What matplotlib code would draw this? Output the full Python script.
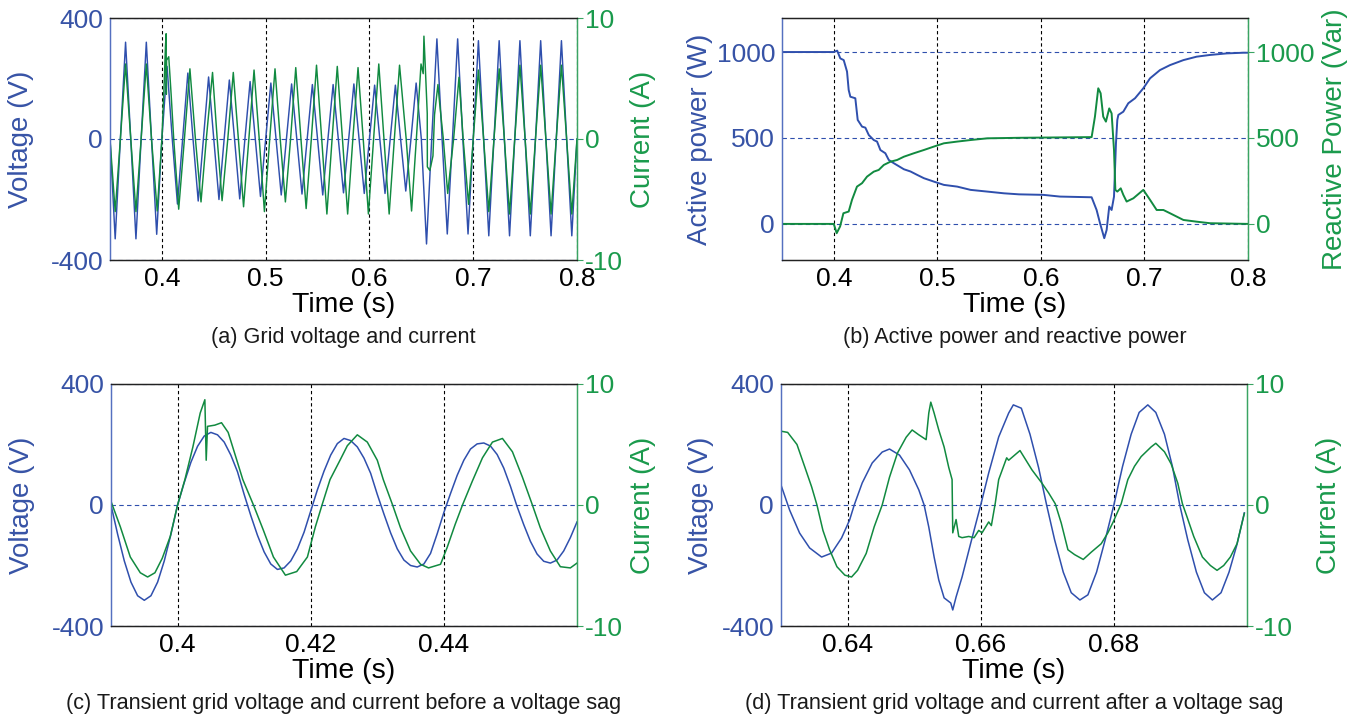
import numpy as np
import matplotlib
matplotlib.use("Agg")
import matplotlib.pyplot as plt

plt.rcParams['font.family'] = ['Liberation Sans', 'DejaVu Sans']

# ---------------- Colours ----------------
BLUE = "#2f4fad"
GREEN = "#118a40"
BLUE_TXT = "#3753a6"
GREEN_TXT = "#1a9a4c"
BLUE_SPINE = "#5570c0"
GREEN_SPINE = "#3aa463"

# ---------------- Data ----------------
# (a) grid voltage (V) and current (A), 0.35 - 0.80 s
va_t = np.round(np.arange(0.350, 0.8001, 0.005), 3)
va_v = [0, -330, 0, 320, 0, -330, 0, 320, 0, -315,
        0, 240, 0, -215, 0, 218, 0, -205, 0, 205,
        0, -200, 0, 195, 0, -198, 0, 190, 0, -190,
        0, 185, 0, -185, 0, 182, 0, -182, 0, 180,
        0, -185, 0, 180, 0, -178, 0, 182, 0, -180,
        0, 178, 0, -180, 0, 178, 0, -172, 0, 185,
        0, -347, 0, 331, 0, -314, 0, 331, 0, -314,
        0, 325, 0, -320, 0, 325, 0, -320, 0, 325,
        0, -320, 0, 325, 0, -320, 0, 325, 0, -320,
        0]
ia_t = [0.350, 0.355, 0.360, 0.365, 0.370, 0.375, 0.380, 0.385, 0.390, 0.3955,
        0.400, 0.4023, 0.4034, 0.4041, 0.4043, 0.4045, 0.4066, 0.4089, 0.4114, 0.4162,
        0.4217, 0.427, 0.4323, 0.4377, 0.4428, 0.4488, 0.4533, 0.458, 0.4635, 0.4688,
        0.4737, 0.4787, 0.4838, 0.4888, 0.4938, 0.4988, 0.5039, 0.509, 0.514, 0.519,
        0.524, 0.529, 0.534, 0.539, 0.544, 0.549, 0.554, 0.559, 0.564, 0.569,
        0.574, 0.579, 0.584, 0.589, 0.594, 0.599, 0.604, 0.609, 0.614, 0.619,
        0.624, 0.629, 0.6354, 0.6406, 0.6452, 0.6497, 0.6518, 0.6525, 0.6537, 0.6557,
        0.6558, 0.6582, 0.6612, 0.6627, 0.666, 0.6677, 0.6712, 0.6754, 0.6811, 0.6863,
        0.6903, 0.6955, 0.700, 0.705, 0.710, 0.715, 0.720, 0.725, 0.730, 0.735,
        0.740, 0.745, 0.750, 0.755, 0.760, 0.765, 0.770, 0.775, 0.780, 0.785,
        0.790, 0.795, 0.800]
ia_v = [0, -6.0, 0, 6.2, 0, -6.0, 0, 6.2, 0, -5.95,
        0, 4.8, 7.6, 8.7, 3.7, 6.5, 6.8, 3.7, 0, -5.8,
        0, 5.8, 0, -5.2, 0, 5.5, 0, -5.1, 0, 5.5,
        0, -5.6, 0, 5.7, 0, -6.0, 0, 5.8, 0, -5.2,
        0, 5.9, 0, -5.75, 0, 6.1, 0, -6.2, 0, 6.0,
        0, -6.2, 0, 5.9, 0, -6.2, 0, 6.2, 0, -6.2,
        0, 6.1, 0, -5.95, 0, 6.2, 5.4, 8.5, 6.2, 2.1,
        -2.3, -2.6, -1.4, 2.0, 4.5, 2.9, 0, -4.5, 0, 5.1,
        0, -5.4, 0, 5.7, 0, -6.0, 0, 5.8, 0, -6.2,
        0, 6.1, 0, -6.2, 0, 6.1, 0, -6.2, 0, 6.1,
        0, -6.2, 0]

# (b) active power (W) and reactive power (Var)
pb_t = [0.350, 0.400, 0.4033, 0.4063, 0.4096, 0.4128, 0.4144, 0.416, 0.4208, 0.4231,
        0.4273, 0.4305, 0.4338, 0.4386, 0.4418, 0.445, 0.4498, 0.4531, 0.458, 0.4677,
        0.4741, 0.4806, 0.487, 0.4967, 0.5063, 0.5192, 0.5321, 0.5483, 0.5644, 0.5789,
        0.6023, 0.6184, 0.649, 0.6538, 0.6571, 0.6612, 0.6635, 0.666, 0.6683, 0.6706,
        0.6725, 0.6738, 0.6748, 0.6796, 0.6844, 0.6909, 0.6989, 0.7054, 0.715, 0.7247,
        0.7376, 0.7504, 0.7633, 0.7794, 0.7955, 0.800]
pb_v = [1000, 1000, 1008, 963, 953, 886, 779, 740, 731, 605,
        566, 560, 517, 488, 479, 430, 411, 372, 353, 318,
        305, 285, 266, 246, 227, 217, 198, 188, 178, 172,
        169, 159, 155, 81, 4, -83, -35, 101, 81, 159,
        469, 605, 634, 653, 702, 731, 789, 847, 895, 924,
        953, 973, 983, 992, 996, 996]
qb_t = [0.350, 0.400, 0.4028, 0.4061, 0.4093, 0.4144, 0.4176, 0.4224, 0.4273, 0.4321,
        0.4386, 0.4434, 0.4483, 0.4547, 0.4612, 0.4677, 0.4773, 0.487, 0.4967, 0.5063,
        0.5192, 0.5321, 0.5483, 0.5789, 0.649, 0.6522, 0.6554, 0.6577, 0.6602, 0.6628,
        0.666, 0.6683, 0.6706, 0.6719, 0.6738, 0.6771, 0.6796, 0.6828, 0.6893, 0.6989,
        0.7054, 0.7118, 0.7183, 0.7247, 0.7376, 0.7504, 0.7633, 0.800]
qb_v = [0, 0, -54, -15, 62, 72, 140, 217, 237, 275,
        304, 314, 343, 362, 372, 391, 411, 430, 450, 469,
        479, 488, 498, 501, 505, 624, 789, 760, 624, 595,
        672, 643, 430, 198, 188, 207, 169, 130, 149, 198,
        140, 81, 81, 62, 23, 13, 4, 0]

# (c) transient before the sag, 0.39 - 0.46 s
vc_t = np.round(np.arange(0.390, 0.4601, 0.001), 3)
vc_v = [0, -97, -185, -255, -300, -315, -300, -255, -185, -97,
        0, 74, 141, 194, 228, 240, 232, 208, 165, 110,
        35, -35, -100, -155, -195, -213, -208, -185, -145, -90,
        -20, 50, 112, 165, 203, 220, 213, 192, 155, 105,
        35, -30, -92, -145, -182, -200, -205, -195, -160, -95,
        -25, 38, 98, 148, 185, 202, 205, 195, 167, 122,
        62, -5, -65, -120, -162, -186, -192, -182, -152, -108,
        -56]
ic_t = [0.390, 0.3914, 0.3929, 0.3944, 0.3955, 0.3966, 0.3977, 0.3989, 0.400, 0.4011,
        0.4023, 0.4034, 0.4041, 0.4043, 0.4045, 0.4056, 0.4066, 0.4076, 0.4089, 0.4098,
        0.4114, 0.4129, 0.4144, 0.4162, 0.4179, 0.4195, 0.4207, 0.4217, 0.4229, 0.4244,
        0.4255, 0.427, 0.4285, 0.430, 0.4309, 0.4323, 0.4335, 0.435, 0.4365, 0.4377,
        0.4395, 0.4405, 0.4417, 0.4428, 0.4443, 0.4458, 0.4473, 0.4488, 0.4503, 0.4518,
        0.4533, 0.4545, 0.456, 0.4575, 0.459, 0.460]
ic_v = [0.3, -1.8, -4.3, -5.6, -5.95, -5.6, -4.4, -2.6, 0, 2.1,
        4.8, 7.6, 8.7, 3.7, 6.5, 6.6, 6.8, 6.0, 3.7, 2.1,
        0, -2.1, -4.3, -5.8, -5.5, -4.3, -1.8, 0, 2.1, 3.7,
        4.9, 5.8, 5.2, 3.7, 2.1, 0, -1.9, -3.8, -4.9, -5.2,
        -4.9, -3.5, -1.6, 0, 2.0, 3.9, 5.2, 5.5, 4.4, 2.3,
        0, -1.9, -3.8, -5.1, -5.2, -4.8]

# (d) transient after the sag, 0.63 - 0.70 s
vd_t = [0.6300, 0.6313, 0.6328, 0.6343, 0.6361, 0.6376, 0.6391, 0.6403, 0.6410, 0.6422,
        0.6437, 0.6452, 0.6463, 0.6478, 0.6493, 0.6507, 0.6515, 0.6522, 0.6530, 0.6537,
        0.6545, 0.6555, 0.6558, 0.6563, 0.6572, 0.6585, 0.6600, 0.6612, 0.6627, 0.6642,
        0.6649, 0.6661, 0.6674, 0.6687, 0.6699, 0.6711, 0.6724, 0.6736, 0.6749, 0.6761,
        0.6774, 0.6787, 0.6800, 0.6813, 0.6826, 0.6838, 0.6851, 0.6863, 0.6876, 0.6888,
        0.6899, 0.6911, 0.6924, 0.6936, 0.6948, 0.6961, 0.6973, 0.6985, 0.6996]
vd_v = [66, -17, -93, -142, -172, -159, -109, -50, 0, 73,
        139, 175, 185, 165, 116, 50, 0, -73, -172, -248,
        -307, -324, -347, -304, -238, -126, 0, 106, 225, 304,
        331, 320, 234, 123, 0, -115, -222, -290, -314, -297,
        -222, -115, 0, 127, 234, 306, 331, 306, 234, 127,
        0, -115, -222, -290, -314, -290, -222, -130, -26]
id_t = [0.6300, 0.6310, 0.6324, 0.6336, 0.6346, 0.6354, 0.6363, 0.6373, 0.6384, 0.6396,
        0.6406, 0.6415, 0.6428, 0.6440, 0.6452, 0.6463, 0.6475, 0.6488, 0.6497, 0.6507,
        0.6518, 0.6522, 0.6525, 0.6530, 0.6537, 0.6545, 0.6552, 0.6557, 0.6558, 0.6563,
        0.6567, 0.6572, 0.6582, 0.6590, 0.6597, 0.6602, 0.6612, 0.6616, 0.6622, 0.6627,
        0.6639, 0.6642, 0.6659, 0.6677, 0.6692, 0.6702, 0.6712, 0.6721, 0.6731, 0.6741,
        0.6754, 0.6766, 0.6781, 0.6791, 0.6799, 0.6811, 0.6821, 0.6831, 0.6841, 0.6856,
        0.6863, 0.6876, 0.6886, 0.6896, 0.6903, 0.6910, 0.6920, 0.6933, 0.6945, 0.6955,
        0.6965, 0.6975, 0.6985, 0.6996]
id_v = [6.1, 6.0, 5.0, 3.1, 1.5, 0, -2.1, -3.7, -5.1, -5.8,
        -5.95, -5.4, -4.0, -1.8, 0, 2.3, 4.3, 5.6, 6.2, 5.8,
        5.4, 7.6, 8.5, 7.6, 6.2, 4.8, 3.1, 2.1, -2.3, -1.2,
        -2.6, -2.7, -2.6, -2.7, -2.1, -2.3, -1.4, -1.7, 0.2, 2.1,
        3.9, 3.7, 4.5, 2.9, 1.8, 1.0, 0.1, -1.5, -3.7, -4.1,
        -4.5, -3.9, -3.2, -2.3, -1.4, 0.1, 2.1, 3.2, 4.0, 4.8,
        5.1, 4.4, 3.4, 1.8, 0.1, -1.0, -2.6, -4.3, -5.0, -5.4,
        -5.0, -4.3, -3.2, -0.7]

# ---------------- Layout ----------------
W, H = 1364, 719
TICK_FS = 19
LAB_FS = 20
XLAB_FS = 20.5
CAP_FS = 15.6


def box(l, t, r, b):
    return [l / W, 1 - b / H, (r - l) / W, (b - t) / H]


def setup(ax, xlim, xticks, xlabels, ylim, yticks, ylabels, ylim2, yticks2, ylabels2,
          ylab, ylab2, lx, rx):
    ax2 = ax.twinx()
    ax.set_xlim(xlim)
    ax.set_ylim(ylim)
    ax2.set_ylim(ylim2)
    ax.set_xticks(xticks, xlabels)
    ax.set_yticks(yticks, ylabels)
    ax2.set_yticks(yticks2, ylabels2)

    for x in xticks:
        ax.axvline(x, color="black", lw=0.8, ls=(0, (3, 2.5)), zorder=0.5)
    for y in yticks:
        ax.axhline(y, color=BLUE, lw=0.8, ls=(0, (4, 3)), zorder=0.5)

    ax.tick_params(axis="x", length=0, pad=5, labelsize=TICK_FS, labelcolor="black")
    ax.tick_params(axis="y", length=0, pad=5, labelsize=TICK_FS, labelcolor=BLUE_TXT)
    ax2.tick_params(axis="y", length=4, width=0.8, color=GREEN_SPINE, pad=2,
                    labelsize=TICK_FS, labelcolor=GREEN_TXT)

    for a in (ax, ax2):
        a.spines["top"].set_color("#222222")
        a.spines["bottom"].set_color("#222222")
        a.spines["left"].set_color(BLUE_SPINE)
        a.spines["right"].set_color(GREEN_SPINE)
        for s in a.spines.values():
            s.set_linewidth(0.9)

    ax.set_xlabel("Time (s)", fontsize=XLAB_FS, va="center")
    ax.xaxis.set_label_coords(0.5, -0.186)
    ax.set_ylabel(ylab, fontsize=LAB_FS, color=BLUE_TXT, va="center")
    ax.yaxis.set_label_coords(lx, 0.5)
    ax2.set_ylabel(ylab2, fontsize=LAB_FS, color=GREEN_TXT, va="center")
    ax2.yaxis.set_label_coords(rx, 0.5)
    return ax2


fig = plt.figure(figsize=(W / 100, H / 100), dpi=100)

ax_a = fig.add_axes(box(110, 18, 577, 260))
ax_b = fig.add_axes(box(782, 18, 1248, 260))
ax_c = fig.add_axes(box(111, 384, 577, 626))
ax_d = fig.add_axes(box(781, 384, 1247, 626))

# ---- (a) ----
ax_a2 = setup(ax_a, (0.35, 0.8), [0.4, 0.5, 0.6, 0.7, 0.8], ["0.4", "0.5", "0.6", "0.7", "0.8"],
              (-400, 400), [-400, 0, 400], ["-400", "0", "400"],
              (-10, 10), [-10, 0, 10], ["-10", "0", "10"],
              "Voltage (V)", "Current (A)", -0.19, 1.141)
ax_a.plot(va_t, va_v, color=BLUE, lw=1.05)
ax_a2.plot(ia_t, ia_v, color=GREEN, lw=1.05)

# ---- (b) ----
ax_b2 = setup(ax_b, (0.35, 0.8), [0.4, 0.5, 0.6, 0.7, 0.8], ["0.4", "0.5", "0.6", "0.7", "0.8"],
              (-210, 1198), [0, 500, 1000], ["0", "500", "1000"],
              (-210, 1198), [0, 500, 1000], ["0", "500", "1000"],
              "Active power (W)", "Reactive Power (Var)", -0.176, 1.187)
ax_b.plot(pb_t, pb_v, color=BLUE, lw=1.4)
ax_b2.plot(qb_t, qb_v, color=GREEN, lw=1.4)

# ---- (c) ----
ax_c2 = setup(ax_c, (0.39, 0.46), [0.40, 0.42, 0.44], ["0.4", "0.42", "0.44"],
              (-400, 400), [-400, 0, 400], ["-400", "0", "400"],
              (-10, 10), [-10, 0, 10], ["-10", "0", "10"],
              "Voltage (V)", "Current (A)", -0.19, 1.141)
ax_c.plot(vc_t, vc_v, color=BLUE, lw=1.1)
ax_c2.plot(ic_t, ic_v, color=GREEN, lw=1.1)

# ---- (d) ----
ax_d2 = setup(ax_d, (0.63, 0.70), [0.64, 0.66, 0.68], ["0.64", "0.66", "0.68"],
              (-400, 400), [-400, 0, 400], ["-400", "0", "400"],
              (-10, 10), [-10, 0, 10], ["-10", "0", "10"],
              "Voltage (V)", "Current (A)", -0.172, 1.176)
ax_d.plot(vd_t, vd_v, color=BLUE, lw=1.1)
ax_d2.plot(id_t, id_v, color=GREEN, lw=1.1)

# ---- captions ----
captions = [
    (343, 337, "(a) Grid voltage and current"),
    (1015, 337, "(b) Active power and reactive power"),
    (344, 703, "(c) Transient grid voltage and current before a voltage sag"),
    (1014, 703, "(d) Transient grid voltage and current after a voltage sag"),
]
for cx, cy, txt in captions:
    fig.text(cx / W, 1 - cy / H, txt, ha="center", va="center", fontsize=CAP_FS, color="#1a1a1a")

fig.savefig("out.png", dpi=100)
